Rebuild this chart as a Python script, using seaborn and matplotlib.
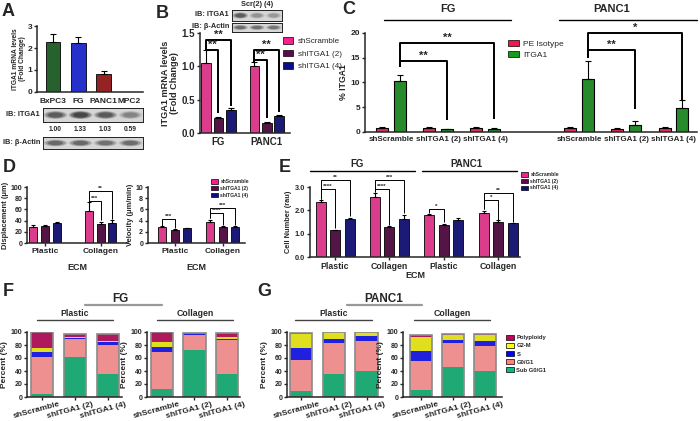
import numpy as np
import pandas as pd
import matplotlib
matplotlib.use("Agg")
import matplotlib.pyplot as plt
import seaborn as sns
from matplotlib.patches import Patch, Ellipse
from matplotlib.lines import Line2D
from matplotlib.transforms import ScaledTranslation

sns.set_style("ticks")
plt.rcParams["font.family"] = ["Liberation Sans", "DejaVu Sans"]
plt.rcParams["font.weight"] = "bold"
plt.rcParams["axes.labelweight"] = "bold"

# ---- data ----
shrna = ["shScramble", "shITGA1 (2)", "shITGA1 (4)"]
sh_colors = ["#f7218c", "#5e0a4c", "#0c0c86"]

# A: ITGA1 mRNA by cell line + blot quantification
lines_a = ["BxPC3", "FG", "PANC1", "MPC2"]
mrna_a = [2.28, 2.25, 0.82, 0.02]
mrna_a_err = [0.35, 0.25, 0.12, 0.0]
colors_a = ["#1d6b26", "#0a1ae6", "#a81010", "#6a1a5a"]
blot_a_itga1 = [1.00, 1.33, 1.03, 0.59]
blot_a_actin = [0.85, 0.85, 0.75, 0.80]

# B: knockdown mRNA, [cell line][shRNA]
lines_b = ["FG", "PANC1"]
mrna_b = [[1.05, 0.22, 0.34], [1.00, 0.15, 0.26]]
mrna_b_err = [[0.20, 0.02, 0.03], [0.06, 0.02, 0.01]]
blot_b_itga1 = [1.0, 0.45, 0.40]
blot_b_actin = [0.80, 0.75, 0.70]
sig_b = [((0, 0), (0, 1), 1.25, 1.25, 0.30, "**"),
         ((0, 0), (0, 2), 1.40, 1.25, 0.40, "**"),
         ((1, 0), (1, 1), 1.10, 1.07, 0.22, "**"),
         ((1, 0), (1, 2), 1.25, 1.07, 0.32, "**")]

# C: % ITGA1 by flow, [condition][stain]
stains_c = ["PE Isotype", "ITGA1"]
stain_colors = ["#f0184c", "#169c1c"]
conds_c = ["FG shScramble", "FG shITGA1 (2)", "FG shITGA1 (4)",
           "PANC1 shScramble", "PANC1 shITGA1 (2)", "PANC1 shITGA1 (4)"]
pct_c = [[0.8, 10.4], [0.9, 0.6], [0.85, 0.65], [0.8, 10.7], [0.7, 1.5], [0.85, 4.9]]
pct_c_err = [[0.2, 1.2], [0.1, 0.1], [0.1, 0.15], [0.15, 3.7], [0.1, 0.8], [0.1, 1.5]]
sig_c = [((0, 1), (1, 1), 14.4, 13.2, 2.5, "**"),
         ((0, 1), (2, 1), 18.0, 13.2, 2.7, "**"),
         ((3, 1), (4, 1), 16.6, 14.9, 4.7, "**"),
         ((3, 1), (5, 1), 20.0, 14.9, 6.4, "*")]

# D: migration, [ECM][shRNA]
ecm = ["Plastic", "Collagen"]
disp = [[29, 31, 35], [58, 34, 36]]
disp_err = [[3, 2, 3], [15, 4, 5]]
vel = [[2.8, 2.35, 2.65], [3.75, 2.9, 2.85]]
vel_err = [[0.15, 0.1, 0.1], [0.3, 0.2, 0.1]]
sig_disp = [((1, 0), (1, 1), 75, 74, 41, "***"),
            ((1, 0), (1, 2), 93, 74, 43, "**")]
sig_vel = [((0, 0), (0, 1), 4.3, 3.1, 2.6, "***"),
           ((1, 0), (1, 1), 5.3, 4.4, 3.2, "****"),
           ((1, 0), (1, 2), 6.2, 4.4, 3.2, "***")]

# E: proliferation, [group][shRNA]
groups_e = ["FG Plastic", "FG Collagen", "PANC1 Plastic", "PANC1 Collagen"]
cells_e = [[2.36, 1.14, 1.64], [2.57, 1.29, 1.64], [1.79, 1.37, 1.57], [1.90, 1.52, 1.45]]
cells_e_err = [[0.08, 0.02, 0.04], [0.18, 0.02, 0.18], [0.06, 0.06, 0.10], [0.08, 0.05, 0.02]]
sig_e = [((0, 0), (0, 1), 2.93, 2.5, 1.25, "****"),
         ((0, 0), (0, 2), 3.30, 2.5, 1.75, "**"),
         ((1, 0), (1, 1), 2.93, 2.8, 1.38, "****"),
         ((1, 0), (1, 2), 3.30, 2.8, 1.90, "***"),
         ((2, 0), (2, 1), 2.07, 1.9, 1.50, "*"),
         ((3, 0), (3, 1), 2.45, 2.05, 1.60, "*"),
         ((3, 0), (3, 2), 2.75, 2.05, 1.50, "**")]

# F/G: cell cycle (% per phase, bottom to top), each list over shRNA
phases = ["Sub G0/G1", "G0/G1", "S", "G2-M", "Polyploidy"]
phase_colors = ["#08c07a", "#ff8080", "#0000ff", "#ffff00", "#c8005c"]
f_plastic = [[5, 61.5, 36], [56.5, 27.5, 44.5], [8.5, 2.5, 3.5], [6, 0.5, 2.5], [24, 5, 11]]
f_collagen = [[13, 72, 36], [56, 24, 51], [7.5, 0.5, 3], [7.5, 0.3, 2], [16, 1, 6.5]]
g_plastic = [[10, 36, 40.5], [47.5, 47, 45.5], [17.5, 6, 8.5], [22, 11, 5.5], [2, 0, 0]]
g_collagen = [[11.5, 46, 40.5], [43.5, 37, 37.5], [16, 5, 8.5], [22, 8, 9.5], [3, 0.5, 1.5]]

# ---- helpers ----
W, H = 700, 421
fig = plt.figure(figsize=(7, 4.21), dpi=100)


def box(x0, y0, x1, y1):
    return fig.add_axes([x0 / W, 1 - y1 / H, (x1 - x0) / W, (y1 - y0) / H])


def ftext(x, y, s, size=7, ha="center", va="center", **kw):
    fig.text(x / W, 1 - y / H, s, fontsize=size, ha=ha, va=va, **kw)


def fline(x0, x1, y, color="black", lw=1.0):
    fig.add_artist(Line2D([x0 / W, x1 / W], [1 - y / H] * 2, color=color, lw=lw))


def prism(ax, ylim, yticks, ylabel, size=6, lsize=6.5, xsize=None, lpad=2):
    ax.set_ylim(*ylim)
    ax.set_yticks(yticks)
    sns.despine(ax=ax)
    for s in ["left", "bottom"]:
        ax.spines[s].set_linewidth(1.1)
    ax.tick_params(width=1, length=2.5, labelsize=size, pad=1)
    if xsize:
        ax.tick_params(axis="x", labelsize=xsize)
    ax.set_ylabel(ylabel, fontsize=lsize, labelpad=lpad)
    ax.set_xlabel("")


def grouped(ax, order, cats, hues, vals, errs, colors, width, gap, lw=0.6, cap=1.8):
    rows = [(c, h, vals[i][j]) for i, c in enumerate(cats) for j, h in enumerate(hues)]
    df = pd.DataFrame(rows, columns=["cat", "hue", "val"])
    sns.barplot(data=df, x="cat", y="val", hue="hue", order=order, hue_order=hues,
                palette=colors, width=width, gap=gap, errorbar=None,
                edgecolor="black", linewidth=lw, legend=False, ax=ax)
    centers = {}
    for j, cont in enumerate(list(ax.containers)):
        for i, bar in enumerate(cont):
            cx = bar.get_x() + bar.get_width() / 2
            centers[(i, j)] = cx
            if errs[i][j] > 0:
                ax.errorbar(cx, vals[i][j], yerr=[[0], [errs[i][j]]], fmt="none",
                            ecolor="black", elinewidth=0.8, capsize=cap, capthick=0.8)
    return centers


def bracket(ax, centers, a, b, top, bot_a, bot_b, label, lw=1.0, size=7):
    xa, xb = centers[a], centers[b]
    ax.plot([xa, xa, xb, xb], [bot_a, top, top, bot_b], color="black", lw=lw,
            clip_on=False, solid_capstyle="butt")
    ax.text((xa + xb) / 2, top, label, ha="center", va="bottom", fontsize=size,
            clip_on=False, linespacing=0.8)


def blot(ax, levels):
    ax.set_facecolor("#d6d6d6")
    ax.set_xlim(-0.5, len(levels) - 0.5)
    ax.set_ylim(0, 1)
    ax.set_xticks([])
    ax.set_yticks([])
    for s in ax.spines.values():
        s.set_linewidth(0.7)
        s.set_color("#222222")
    for i, v in enumerate(levels):
        for w, a in [(0.95, 0.25), (0.8, 0.45), (0.6, 0.7)]:
            ax.add_patch(Ellipse((i, 0.5), w, 0.6 * w, color="#333333",
                                 alpha=a * min(v, 1.33) / 1.33, lw=0))


def legend_at(x, y, labels, colors, size, hl=1.2, hh=0.8, sp=0.3, weight="normal"):
    handles = [Patch(facecolor=c, edgecolor="black", lw=0.5) for c in colors]
    fig.legend(handles, labels, loc="upper left", bbox_to_anchor=(x / W, 1 - y / H),
               frameon=False, prop={"size": size, "weight": weight}, handlelength=hl,
               handleheight=hh, labelspacing=sp, borderpad=0, borderaxespad=0,
               handletextpad=0.5)


def stacked(ax, parts, xlim):
    cum = np.cumsum(np.array(parts), axis=0)
    for k in range(len(phases) - 1, -1, -1):
        sns.barplot(x=shrna, y=cum[k], color=phase_colors[k], width=0.68,
                    linewidth=0, ax=ax)
    sns.barplot(x=shrna, y=cum[-1], color="#8a8a8a", fill=False, width=0.68,
                linewidth=1.2, ax=ax)
    ax.set_xlim(*xlim)
    prism(ax, (0, 100), [0, 20, 40, 60, 80, 100], "Percent (%)", size=5, lsize=6,
          xsize=6)
    ax.tick_params(axis="x", pad=0)
    ax.set_xticks(range(3))
    ax.set_xticklabels(shrna, rotation=15, ha="center")
    for lbl in ax.get_xticklabels():
        lbl.set_transform(lbl.get_transform() + ScaledTranslation(-0.05, 0, fig.dpi_scale_trans))


# ---- panel letters ----
for letter, x, y in [("A", 8, 12), ("B", 162, 13), ("C", 349, 10), ("D", 9, 167),
                     ("E", 285, 168), ("F", 8, 291), ("G", 264, 292)]:
    ftext(x, y, letter, size=13)

# ---- A ----
axA = box(37, 26, 143, 92)
dfa = pd.DataFrame({"line": lines_a, "mrna": mrna_a})
sns.barplot(data=dfa, x="line", y="mrna", hue="line", palette=colors_a, width=0.58,
            errorbar=None, edgecolor="black", linewidth=0.6, legend=False, ax=axA)
for i, bar in enumerate(axA.patches):
    if mrna_a_err[i] > 0:
        axA.errorbar(bar.get_x() + bar.get_width() / 2, mrna_a[i],
                     yerr=[[0], [mrna_a_err[i]]], fmt="none", ecolor="black",
                     elinewidth=0.8, capsize=2.2, capthick=0.8)
axA.set_xlim(-0.63, 3.55)
prism(axA, (0, 3), [0, 1, 2, 3], "ITGA1 mRNA levels\n(Fold Change)", size=6, lsize=4.8,
      xsize=6, lpad=1)
axA.tick_params(axis="x", length=0, pad=4)
axA.yaxis.label.set_linespacing(0.95)

bA1 = box(43, 108, 143, 122)
blot(bA1, blot_a_itga1)
bA2 = box(43, 137, 143, 149)
blot(bA2, blot_a_actin)
ftext(40, 115, "IB: ITGA1", size=5.3, ha="right")
ftext(40, 143, "IB: β-Actin", size=5.3, ha="right")
for i, v in enumerate(blot_a_itga1):
    bA1.text(i, -0.55, f"{v:.2f}", ha="center", va="center", fontsize=4.8, clip_on=False)

# ---- B ----
axB = box(200, 33, 290, 133)
cB = grouped(axB, lines_b, lines_b, shrna, mrna_b, mrna_b_err, sh_colors, 0.77, 0.22,
             cap=2.0)
axB.set_xlim(-0.38, 1.48)
prism(axB, (0, 1.5), [0, 0.5, 1.0, 1.5], "ITGA1 mRNA levels\n(Fold Change)", size=7,
      lsize=6.6, xsize=7)
axB.set_yticklabels(["0.0", "0.5", "1.0", "1.5"])
axB.tick_params(axis="x", length=0, pad=3)
axB.yaxis.label.set_linespacing(0.95)
for spec in sig_b:
    bracket(axB, cB, *spec, lw=1.4, size=8)
legend_at(283, 37, shrna, sh_colors, 5.8, hl=1.3, hh=0.9, sp=0.55)

bB1 = box(232, 10, 282, 21)
blot(bB1, blot_b_itga1)
bB2 = box(232, 23, 282, 32)
blot(bB2, blot_b_actin)
ftext(257, 4, "Scr(2) (4)", size=5.3)
ftext(229, 15, "IB: ITGA1", size=5.3, ha="right")
ftext(229, 27, "IB: β-Actin", size=5.3, ha="right")

# ---- C ----
axC = box(365, 33, 697, 132)
order_c = conds_c[:3] + [" "] + conds_c[3:]
cC = grouped(axC, order_c, conds_c, stains_c, pct_c, pct_c_err, stain_colors, 0.76,
             0.33, lw=0.8, cap=2.5)
axC.set_xlim(-0.55, 6.5)
prism(axC, (0, 20), [0, 5, 10, 15, 20], "% ITGA1", size=6, lsize=6.2, xsize=5.8)
axC.set_xticks([0, 1, 2, 4, 5, 6])
axC.set_xticklabels(shrna * 2)
axC.tick_params(axis="x", length=0, pad=3)
for spec in sig_c:
    bracket(axC, cC, *spec, lw=1.4, size=8)
legend_at(508, 40, stains_c, stain_colors, 6, hl=1.3, hh=0.8, sp=0.35)
ftext(448, 9, "FG", size=8)
fline(384, 511, 20)
ftext(612, 9, "PANC1", size=8)
fline(559, 697, 20)

# ---- D ----
axD1 = box(27, 187, 128, 243)
cD1 = grouped(axD1, ecm, ecm, shrna, disp, disp_err, sh_colors, 0.63, 0.33, cap=1.5)
axD1.set_xlim(-0.32, 1.49)
prism(axD1, (0, 100), [0, 20, 40, 60, 80, 100], "Displacement (μm)", size=5, lsize=5.4,
      xsize=6, lpad=1)
axD1.set_xlabel("ECM", fontsize=6.5, labelpad=6)
for spec in sig_disp:
    bracket(axD1, cD1, *spec, lw=0.7, size=4.5)

axD2 = box(148, 187, 245, 243)
cD2 = grouped(axD2, ecm, ecm, shrna, vel, vel_err, sh_colors, 0.78, 0.36, cap=1.5)
axD2.set_xlim(-0.56, 1.46)
prism(axD2, (0, 10), [0, 2, 4, 6, 8, 10], "Velocity (μm/min)", size=5, lsize=5.4,
      xsize=6, lpad=1)
axD2.set_xlabel("ECM", fontsize=6.5, labelpad=6)
for spec in sig_vel:
    bracket(axD2, cD2, *spec, lw=0.7, size=4.5)
legend_at(211, 179, shrna, sh_colors, 3.6, hl=1.4, hh=1.0, sp=0.35, weight="bold")

# ---- E ----
axE = box(310, 187, 520, 257)
cE = grouped(axE, groups_e, groups_e, shrna, cells_e, cells_e_err, sh_colors, 0.8, 0.31,
             cap=1.6)
axE.set_xlim(-0.46, 3.4)
prism(axE, (0, 3), [0, 1, 2, 3], "Cell Number (rau)", size=5.3, lsize=5.3, xsize=6.3)
axE.set_yticklabels(["0.0", "1.0", "2.0", "3.0"])
axE.set_xticklabels(["Plastic", "Collagen", "Plastic", "Collagen"])
axE.set_xlabel("ECM", fontsize=6.5, labelpad=0)
for spec in sig_e:
    bracket(axE, cE, *spec, lw=0.7, size=4.5)
legend_at(521, 172, shrna, sh_colors, 3.6, hl=1.4, hh=1.0, sp=0.35, weight="bold")
ftext(357, 164, "FG", size=7)
fline(310, 415, 171)
ftext(466, 164, "PANC1", size=7)
fline(422, 517, 171)

# ---- F / G ----
axF1 = box(27, 332, 122, 397)
stacked(axF1, f_plastic, (-0.45, 2.42))
axF2 = box(147, 332, 240, 397)
stacked(axF2, f_collagen, (-0.46, 2.4))
axG1 = box(287, 332, 383, 397)
stacked(axG1, g_plastic, (-0.43, 2.5))
axG2 = box(403, 332, 502, 397)
stacked(axG2, g_collagen, (-0.55, 2.52))

ftext(120, 299, "FG", size=8.5)
fline(85, 162, 305, color="#999999", lw=1.6)
ftext(384, 299, "PANC1", size=8.5)
fline(347, 422, 305, color="#999999", lw=1.6)
for x, x0, x1, s in [(75, 37, 113, "Plastic"), (195, 157, 233, "Collagen"),
                     (334, 295, 372, "Plastic"), (452, 414, 490, "Collagen")]:
    ftext(x, 313, s, size=6.3)
    fline(x0, x1, 320, color="#444444", lw=1.0)

legend_at(506, 335, phases[::-1], phase_colors[::-1], 4.2, hl=1.3, hh=0.9, sp=0.45,
          weight="bold")

fig.savefig("out.png", dpi=100)
